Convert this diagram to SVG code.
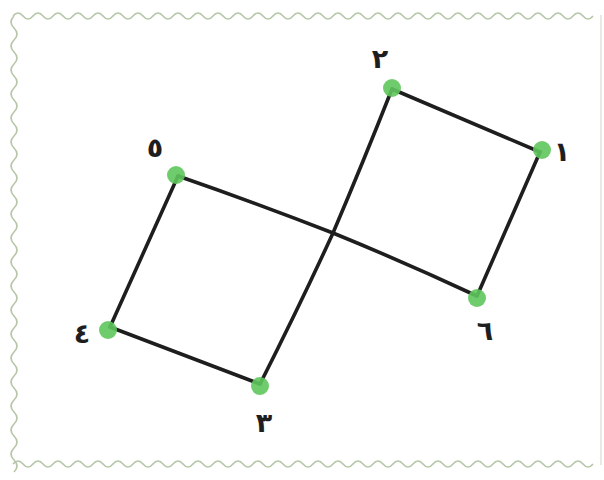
<svg xmlns="http://www.w3.org/2000/svg" width="604" height="480" viewBox="0 0 604 480">
<style>
.edge{stroke:#1e1e1e;stroke-width:3.6;stroke-linecap:round;stroke-linejoin:round;fill:none}
.dot{fill:#5fc65d;fill-opacity:0.9}
.lbl{font-family:"DejaVu Sans","Noto Sans",sans-serif;font-size:27px;font-weight:bold;fill:#1e1e1e;text-anchor:middle}
.wave{fill:none;stroke:#b5c6a8;stroke-width:1.6}
</style>
<rect width="604" height="480" fill="#ffffff"/>
<g id="border">
<path class="wave" d="M13,16 q5,-6 10,0 t10,0 t10,0 t10,0 t10,0 t10,0 t10,0 t10,0 t10,0 t10,0 t10,0 t10,0 t10,0 t10,0 t10,0 t10,0 t10,0 t10,0 t10,0 t10,0 t10,0 t10,0 t10,0 t10,0 t10,0 t10,0 t10,0 t10,0 t10,0 t10,0 t10,0 t10,0 t10,0 t10,0 t10,0 t10,0 t10,0 t10,0 t10,0 t10,0 t10,0 t10,0 t10,0 t10,0 t10,0 t10,0 t10,0 t10,0 t10,0 t10,0 t10,0 t10,0 t10,0 t10,0 t10,0 t10,0 t10,0 t10,0"/>
<path class="wave" d="M13,464 q5,-6 10,0 t10,0 t10,0 t10,0 t10,0 t10,0 t10,0 t10,0 t10,0 t10,0 t10,0 t10,0 t10,0 t10,0 t10,0 t10,0 t10,0 t10,0 t10,0 t10,0 t10,0 t10,0 t10,0 t10,0 t10,0 t10,0 t10,0 t10,0 t10,0 t10,0 t10,0 t10,0 t10,0 t10,0 t10,0 t10,0 t10,0 t10,0 t10,0 t10,0 t10,0 t10,0 t10,0 t10,0 t10,0 t10,0 t10,0 t10,0 t10,0 t10,0 t10,0 t10,0 t10,0 t10,0 t10,0 t10,0 t10,0 t10,0"/>
<path class="wave" d="M14,16 q-6,6 0,12 t0,12 t0,12 t0,12 t0,12 t0,12 t0,12 t0,12 t0,12 t0,12 t0,12 t0,12 t0,12 t0,12 t0,12 t0,12 t0,12 t0,12 t0,12 t0,12 t0,12 t0,12 t0,12 t0,12 t0,12 t0,12 t0,12 t0,12 t0,12 t0,12 t0,12 t0,12 t0,12 t0,12 t0,12 t0,12 t0,12 t0,12"/>
<line x1="601" y1="15" x2="601" y2="465" stroke="#dfe6d8" stroke-width="1.5"/>
</g>
<g id="connectors">
<path class="edge" d="M392,89 L540,152"/>
<path class="edge" d="M540,152 L477,296"/>
<path class="edge" d="M477,296 Q404,262 333,233 Q256,203 178,176"/>
<path class="edge" d="M178,176 L110,327"/>
<path class="edge" d="M110,327 L260,384"/>
<path class="edge" d="M260,384 Q300,305 333,233 Q362,165 392,89"/>
</g>
<g id="n1"><circle class="dot" cx="542" cy="150" r="9"/><text class="lbl" x="562" y="161">١</text></g>
<g id="n2"><circle class="dot" cx="392" cy="88" r="9"/><text class="lbl" x="380" y="68">٢</text></g>
<g id="n3"><circle class="dot" cx="260" cy="386" r="9"/><text class="lbl" x="264" y="432">٣</text></g>
<g id="n4"><circle class="dot" cx="108" cy="330" r="9"/><text class="lbl" x="82" y="343">٤</text></g>
<g id="n5"><circle class="dot" cx="176" cy="175" r="9"/><text class="lbl" x="155" y="157">٥</text></g>
<g id="n6"><circle class="dot" cx="477" cy="298" r="9"/><text class="lbl" x="485" y="340">٦</text></g>
</svg>
